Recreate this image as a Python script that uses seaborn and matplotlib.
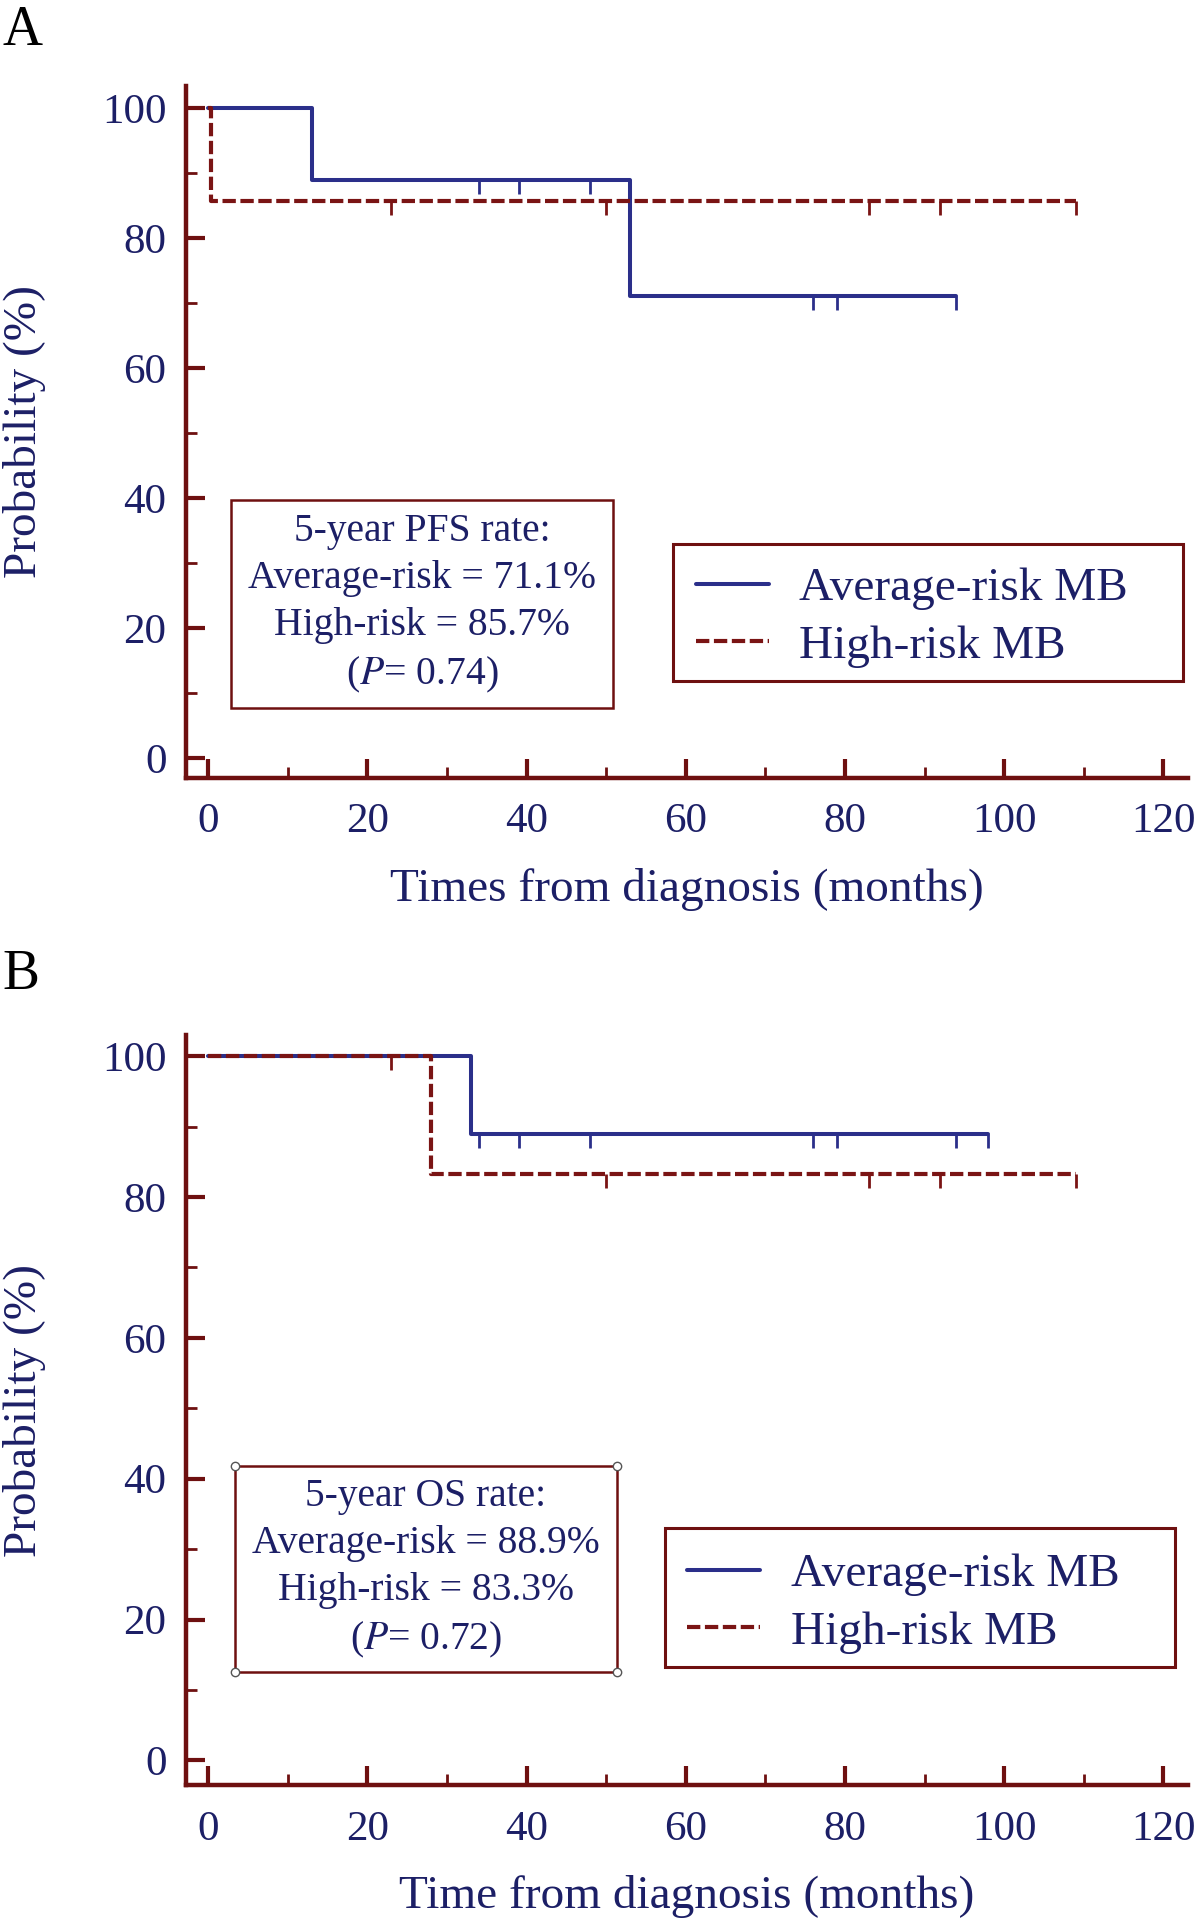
import numpy as np
import pandas as pd
import matplotlib
matplotlib.use("Agg")
import matplotlib.pyplot as plt
from matplotlib.patches import Rectangle
import seaborn as sns

# ---------------- data ----------------
# Panel A (PFS)
a_avg_time = [0, 13, 53, 94]
a_avg_surv = [100, 88.9, 71.1, 71.1]
a_avg_cens_time = [34, 39, 48, 76, 79, 94]
a_avg_cens_surv = [88.9, 88.9, 88.9, 71.1, 71.1, 71.1]
a_high_time = [0, 0.3, 109]
a_high_surv = [100, 85.7, 85.7]
a_high_cens_time = [23, 50, 83, 92, 109]
a_high_cens_surv = [85.7, 85.7, 85.7, 85.7, 85.7]

# Panel B (OS)
b_avg_time = [0, 33, 98]
b_avg_surv = [100, 88.9, 88.9]
b_avg_cens_time = [34, 39, 48, 76, 79, 94, 98]
b_avg_cens_surv = [88.9] * 7
b_high_time = [0, 28, 109]
b_high_surv = [100, 83.3, 83.3]
b_high_cens_time = [23, 50, 83, 92, 109]
b_high_cens_surv = [100, 83.3, 83.3, 83.3, 83.3]

series_labels = ["Average-risk MB", "High-risk MB"]
x_ticks = [0, 20, 40, 60, 80, 100, 120]
y_ticks = [0, 20, 40, 60, 80, 100]
a_box_text = "5-year PFS rate:\nAverage-risk = 71.1%\nHigh-risk = 85.7%\n($P$= 0.74)"
b_box_text = "5-year OS rate:\nAverage-risk = 88.9%\nHigh-risk = 83.3%\n($P$= 0.72)"

# ---------------- style ----------------
sns.set_style("ticks")
plt.rcParams["font.family"] = ["Liberation Serif", "DejaVu Serif"]
plt.rcParams["mathtext.fontset"] = "stix"

NAVY = "#2b2f8a"
TXT = "#1c1f66"
RED = "#7a1414"
SPINE = "#6e1010"

fig = plt.figure(figsize=(12, 19.2), dpi=100)

cens_marker = [(0, 0), (0, -1)]


def panel(rect, ylim, avg, high, avg_c, high_c, box_text, box_rect, xlabel,
          corners, leg_anchor, leg_frame):
    ax = fig.add_axes(rect)
    df_a = pd.DataFrame({"t": avg[0], "s": avg[1]})
    df_h = pd.DataFrame({"t": high[0], "s": high[1]})
    sns.lineplot(data=df_a, x="t", y="s", ax=ax, color=NAVY, lw=2.9,
                 drawstyle="steps-post", label=series_labels[0], estimator=None)
    sns.lineplot(data=df_h, x="t", y="s", ax=ax, color=RED, lw=3.0,
                 drawstyle="steps-post", label=series_labels[1], estimator=None,
                 linestyle=(0, (3.2, 1.1)))
    ax.plot(avg_c[0], avg_c[1], ls="none", marker=cens_marker, ms=20,
            mec=NAVY, mew=2.0, color=NAVY)
    ax.plot(high_c[0], high_c[1], ls="none", marker=cens_marker, ms=20,
            mec=RED, mew=2.0, color=RED)

    ax.set_xlim(-2.8, 123.1)
    ax.set_ylim(*ylim)
    ax.set_xticks(x_ticks)
    ax.set_yticks(y_ticks)
    ax.set_xticks(np.arange(10, 120, 20), minor=True)
    ax.set_yticks(np.arange(10, 100, 20), minor=True)
    ax.tick_params(axis="both", which="major", direction="in", length=14,
                   width=3, color=SPINE, labelsize=31, labelcolor=TXT)
    ax.tick_params(axis="both", which="minor", direction="in", length=8,
                   width=2, color=SPINE)
    ax.tick_params(axis="x", pad=18)
    ax.tick_params(axis="y", pad=14)
    for s in ["top", "right"]:
        ax.spines[s].set_visible(False)
    for s in ["left", "bottom"]:
        ax.spines[s].set_color(SPINE)
        ax.spines[s].set_linewidth(3.2)
    ax.set_xlabel(xlabel, fontsize=34, color=TXT, labelpad=19)
    ax.set_ylabel("Probability (%)", fontsize=34, color=TXT, labelpad=40)

    x0, x1, y0, y1 = box_rect
    ax.add_patch(Rectangle((x0, y0), x1 - x0, y1 - y0, fill=False,
                           ec=SPINE, lw=1.8, zorder=3))
    if corners:
        ax.plot([x0, x1, x0, x1], [y0, y0, y1, y1], ls="none", marker="o",
                ms=6, mfc="white", mec="#555555", mew=1, zorder=4)
    ax.text((x0 + x1) / 2, (y0 + y1) / 2, box_text, ha="center", va="center",
            multialignment="center", fontsize=28.5, color=TXT, linespacing=1.36)

    leg = ax.legend(loc="center left", bbox_to_anchor=leg_anchor, fontsize=34,
                    frameon=False, handlelength=1.55, handletextpad=0.65,
                    borderpad=0, labelspacing=0.3, borderaxespad=0)
    for t in leg.get_texts():
        t.set_color(TXT)
    fx0, fx1, fy0, fy1 = leg_frame
    ax.add_patch(Rectangle((fx0, fy0), fx1 - fx0, fy1 - fy0, transform=ax.transAxes,
                           fill=False, ec=SPINE, lw=2.2, zorder=3))
    return ax


axA = panel([0.155, 0.5948, 0.835, 0.3604], (-3.0, 103.4),
            (a_avg_time, a_avg_surv), (a_high_time, a_high_surv),
            (a_avg_cens_time, a_avg_cens_surv), (a_high_cens_time, a_high_cens_surv),
            a_box_text, (2.9, 50.8, 7.8, 39.7),
            "Times from diagnosis (months)", False,
            (0.5085, 0.232), (0.4865, 0.9949, 0.1405, 0.3387))

axB = panel([0.155, 0.0703, 0.835, 0.3906], (-3.5, 103.0),
            (b_avg_time, b_avg_surv), (b_high_time, b_high_surv),
            (b_avg_cens_time, b_avg_cens_surv), (b_high_cens_time, b_high_cens_surv),
            b_box_text, (3.3, 51.3, 12.5, 41.8),
            "Time from diagnosis (months)", True,
            (0.500, 0.242), (0.4779, 0.9875, 0.158, 0.3425))

fig.text(0.002, 0.984, "A", fontsize=40, color="black", va="center", ha="left")
fig.text(0.002, 0.492, "B", fontsize=40, color="black", va="center", ha="left")

fig.savefig("out.png", dpi=100)
